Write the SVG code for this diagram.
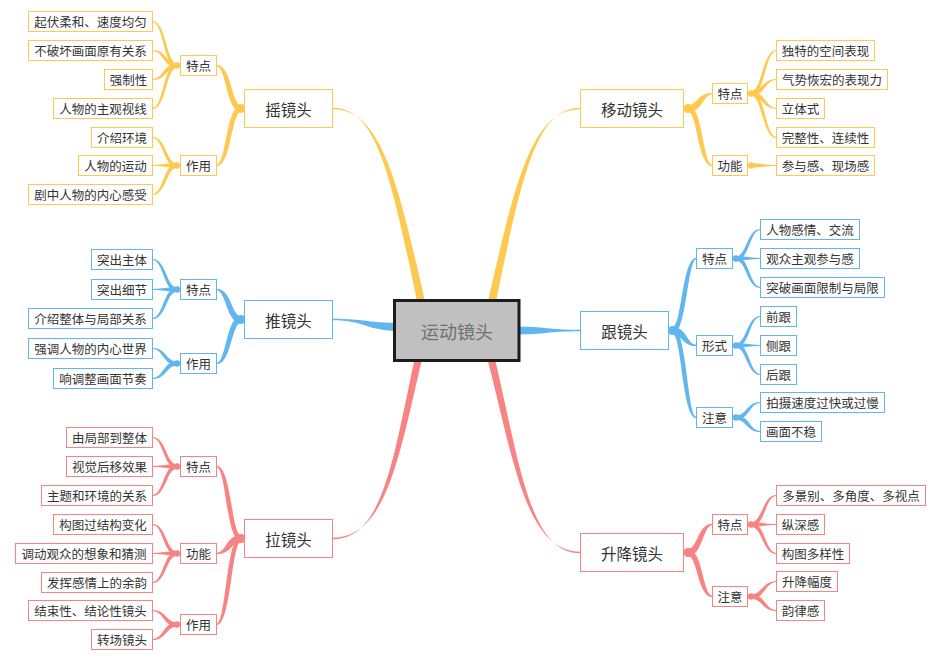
<svg xmlns="http://www.w3.org/2000/svg" width="940" height="660" viewBox="0 0 940 660">
<style>
.y{fill:#FFC94F}.b{fill:#62B6F0}.r{fill:#F88383}
rect{fill:#fff;stroke-width:1}
.ny rect{stroke:#FFC94F}.nb rect{stroke:#62B6F0}.nr rect{stroke:#F88383}
text{font-family:"Noto Sans CJK SC","Noto Sans",sans-serif;fill:#333;text-anchor:middle;dominant-baseline:central;font-size:12.5px}
.l1 text{font-size:15.5px}
</style>
<rect x="0" y="0" width="940" height="660" style="fill:#fff;stroke:none"/>
<g id="connectors">
<g class="y">
<path d="M332.5,107.7 C378.5,107.5 392,180.6 421.1,320.8 L428.9,319.2 C398,179.4 381.5,109.5 332.5,109.3 Z"/>
<path d="M580.5,107.7 C534.5,107.5 521,180.6 491.9,320.8 L484.1,319.2 C515,179.4 531.5,109.5 580.5,109.3 Z"/>
<circle cx="241" cy="108.5" r="4.5"/><circle cx="177" cy="65.5" r="3.2"/><circle cx="177" cy="165.5" r="3.2"/>
<path d="M241,105 C231.4,105 231.4,64.8 216.5,64.8 L216.5,66.2 C226.2,66.2 226.2,112 241,112 Z"/>
<path d="M241,105 C226.2,105 226.2,164.8 216.5,164.8 L216.5,166.2 C231.4,166.2 231.4,112 241,112 Z"/>
<path d="M177,63.3 C166.2,63.3 166.2,20.9 152.5,20.9 L152.5,22.1 C163.4,22.1 163.4,67.7 177,67.7 Z"/>
<path d="M177,63.3 C166.2,63.3 166.2,49.9 152.5,49.9 L152.5,51.1 C163.4,51.1 163.4,67.7 177,67.7 Z"/>
<path d="M177,63.3 C163.4,63.3 163.4,78.9 152.5,78.9 L152.5,80.1 C166.2,80.1 166.2,67.7 177,67.7 Z"/>
<path d="M177,63.3 C163.4,63.3 163.4,107.9 152.5,107.9 L152.5,109.1 C166.2,109.1 166.2,67.7 177,67.7 Z"/>
<path d="M177,163.3 C166.2,163.3 166.2,136.9 152.5,136.9 L152.5,138.1 C163.4,138.1 163.4,167.7 177,167.7 Z"/>
<path d="M177,163.3 C164.8,163.3 164.8,164.9 152.5,164.9 L152.5,166.1 C164.8,166.1 164.8,167.7 177,167.7 Z"/>
<path d="M177,163.3 C163.4,163.3 163.4,193.9 152.5,193.9 L152.5,195.1 C166.2,195.1 166.2,167.7 177,167.7 Z"/>
<circle cx="688" cy="108.5" r="4.5"/><circle cx="751" cy="93.5" r="3.2"/><circle cx="751" cy="165.5" r="3.2"/>
<path d="M688,105 C697.6,105 697.6,92.8 712.5,92.8 L712.5,94.2 C702.8,94.2 702.8,112 688,112 Z"/>
<path d="M688,105 C702.8,105 702.8,164.8 712.5,164.8 L712.5,166.2 C697.6,166.2 697.6,112 688,112 Z"/>
<path d="M751,91.3 C762.4,91.3 762.4,49.9 776.5,49.9 L776.5,51.1 C765.2,51.1 765.2,95.7 751,95.7 Z"/>
<path d="M751,91.3 C762.4,91.3 762.4,78.9 776.5,78.9 L776.5,80.1 C765.2,80.1 765.2,95.7 751,95.7 Z"/>
<path d="M751,91.3 C765.2,91.3 765.2,107.9 776.5,107.9 L776.5,109.1 C762.4,109.1 762.4,95.7 751,95.7 Z"/>
<path d="M751,91.3 C765.2,91.3 765.2,136.9 776.5,136.9 L776.5,138.1 C762.4,138.1 762.4,95.7 751,95.7 Z"/>
<path d="M751,163.3 C763.8,163.3 763.8,164.9 776.5,164.9 L776.5,166.1 C763.8,166.1 763.8,167.7 751,167.7 Z"/>
</g>
<g class="b">
<path d="M400,323 C366,323 366,318.8 332.5,318.8 L332.5,320.2 C366,320.2 366,331 400,331 Z"/>
<path d="M514,326.4 C547,326.4 547,329.8 580.5,329.8 L580.5,331.2 C547,331.2 547,334.4 514,334.4 Z"/>
<circle cx="241" cy="319.5" r="4.5"/><circle cx="177" cy="289.5" r="3.2"/><circle cx="177" cy="363.5" r="3.2"/>
<path d="M241,316 C231.4,316 231.4,288.8 216.5,288.8 L216.5,290.2 C226.2,290.2 226.2,323 241,323 Z"/>
<path d="M241,316 C226.2,316 226.2,362.8 216.5,362.8 L216.5,364.2 C231.4,364.2 231.4,323 241,323 Z"/>
<path d="M177,287.3 C166.2,287.3 166.2,258.9 152.5,258.9 L152.5,260.1 C163.4,260.1 163.4,291.7 177,291.7 Z"/>
<path d="M177,287.3 C164.8,287.3 164.8,288.9 152.5,288.9 L152.5,290.1 C164.8,290.1 164.8,291.7 177,291.7 Z"/>
<path d="M177,287.3 C163.4,287.3 163.4,317.9 152.5,317.9 L152.5,319.1 C166.2,319.1 166.2,291.7 177,291.7 Z"/>
<path d="M177,361.3 C166.2,361.3 166.2,347.9 152.5,347.9 L152.5,349.1 C163.4,349.1 163.4,365.7 177,365.7 Z"/>
<path d="M177,361.3 C163.4,361.3 163.4,377.9 152.5,377.9 L152.5,379.1 C166.2,379.1 166.2,365.7 177,365.7 Z"/>
<circle cx="672.5" cy="330.5" r="4.5"/><circle cx="736" cy="258.5" r="3.2"/><circle cx="736" cy="345.5" r="3.2"/><circle cx="736" cy="417.5" r="3.2"/>
<path d="M672.5,327 C681.9,327 681.9,257.8 696.5,257.8 L696.5,259.2 C687.1,259.2 687.1,334 672.5,334 Z"/>
<path d="M672.5,327 C687.1,327 687.1,344.8 696.5,344.8 L696.5,346.2 C681.9,346.2 681.9,334 672.5,334 Z"/>
<path d="M672.5,327 C687.1,327 687.1,416.8 696.5,416.8 L696.5,418.2 C681.9,418.2 681.9,334 672.5,334 Z"/>
<path d="M736,256.3 C746.8,256.3 746.8,228.9 760.5,228.9 L760.5,230.1 C749.6,230.1 749.6,260.7 736,260.7 Z"/>
<path d="M736,256.3 C748.2,256.3 748.2,257.9 760.5,257.9 L760.5,259.1 C748.2,259.1 748.2,260.7 736,260.7 Z"/>
<path d="M736,256.3 C749.6,256.3 749.6,286.9 760.5,286.9 L760.5,288.1 C746.8,288.1 746.8,260.7 736,260.7 Z"/>
<path d="M736,343.3 C746.8,343.3 746.8,315.9 760.5,315.9 L760.5,317.1 C749.6,317.1 749.6,347.7 736,347.7 Z"/>
<path d="M736,343.3 C748.2,343.3 748.2,344.9 760.5,344.9 L760.5,346.1 C748.2,346.1 748.2,347.7 736,347.7 Z"/>
<path d="M736,343.3 C749.6,343.3 749.6,373.9 760.5,373.9 L760.5,375.1 C746.8,375.1 746.8,347.7 736,347.7 Z"/>
<path d="M736,415.3 C746.8,415.3 746.8,401.9 760.5,401.9 L760.5,403.1 C749.6,403.1 749.6,419.7 736,419.7 Z"/>
<path d="M736,415.3 C749.6,415.3 749.6,430.9 760.5,430.9 L760.5,432.1 C746.8,432.1 746.8,419.7 736,419.7 Z"/>
</g>
<g class="r">
<path d="M332.5,539.3 C388.5,539.5 395,439.4 421.3,330.1 L428.7,331.9 C401,440.6 391.5,537.5 332.5,537.7 Z"/>
<path d="M580.5,553.3 C524.5,553.5 518,444.2 487.7,330 L480.3,332 C512,445.8 521.5,551.5 580.5,551.7 Z"/>
<circle cx="241" cy="538.5" r="4.5"/><circle cx="177" cy="466.5" r="3.2"/><circle cx="177" cy="553.5" r="3.2"/><circle cx="177" cy="624.5" r="3.2"/>
<path d="M241,535 C231.4,535 231.4,465.8 216.5,465.8 L216.5,467.2 C226.2,467.2 226.2,542 241,542 Z"/>
<path d="M241,535 C226.2,535 226.2,552.8 216.5,552.8 L216.5,554.2 C231.4,554.2 231.4,542 241,542 Z"/>
<path d="M241,535 C226.2,535 226.2,623.8 216.5,623.8 L216.5,625.2 C231.4,625.2 231.4,542 241,542 Z"/>
<path d="M177,464.3 C166.2,464.3 166.2,436.9 152.5,436.9 L152.5,438.1 C163.4,438.1 163.4,468.7 177,468.7 Z"/>
<path d="M177,464.3 C164.8,464.3 164.8,465.9 152.5,465.9 L152.5,467.1 C164.8,467.1 164.8,468.7 177,468.7 Z"/>
<path d="M177,464.3 C163.4,464.3 163.4,494.9 152.5,494.9 L152.5,496.1 C166.2,496.1 166.2,468.7 177,468.7 Z"/>
<path d="M177,551.3 C166.2,551.3 166.2,523.9 152.5,523.9 L152.5,525.1 C163.4,525.1 163.4,555.7 177,555.7 Z"/>
<path d="M177,551.3 C164.8,551.3 164.8,552.9 152.5,552.9 L152.5,554.1 C164.8,554.1 164.8,555.7 177,555.7 Z"/>
<path d="M177,551.3 C163.4,551.3 163.4,581.9 152.5,581.9 L152.5,583.1 C166.2,583.1 166.2,555.7 177,555.7 Z"/>
<path d="M177,622.3 C166.2,622.3 166.2,609.9 152.5,609.9 L152.5,611.1 C163.4,611.1 163.4,626.7 177,626.7 Z"/>
<path d="M177,622.3 C163.4,622.3 163.4,638.9 152.5,638.9 L152.5,640.1 C166.2,640.1 166.2,626.7 177,626.7 Z"/>
<circle cx="688" cy="552.5" r="4.5"/><circle cx="751" cy="524.5" r="3.2"/><circle cx="751" cy="596.5" r="3.2"/>
<path d="M688,549 C697.6,549 697.6,523.8 712.5,523.8 L712.5,525.2 C702.8,525.2 702.8,556 688,556 Z"/>
<path d="M688,549 C702.8,549 702.8,595.8 712.5,595.8 L712.5,597.2 C697.6,597.2 697.6,556 688,556 Z"/>
<path d="M751,522.3 C762.4,522.3 762.4,494.9 776.5,494.9 L776.5,496.1 C765.2,496.1 765.2,526.7 751,526.7 Z"/>
<path d="M751,522.3 C763.8,522.3 763.8,523.9 776.5,523.9 L776.5,525.1 C763.8,525.1 763.8,526.7 751,526.7 Z"/>
<path d="M751,522.3 C765.2,522.3 765.2,552.9 776.5,552.9 L776.5,554.1 C762.4,554.1 762.4,526.7 751,526.7 Z"/>
<path d="M751,594.3 C762.4,594.3 762.4,580.9 776.5,580.9 L776.5,582.1 C765.2,582.1 765.2,598.7 751,598.7 Z"/>
<path d="M751,594.3 C765.2,594.3 765.2,609.9 776.5,609.9 L776.5,611.1 C762.4,611.1 762.4,598.7 751,598.7 Z"/>
</g>
</g>
<g id="center"><rect x="394.5" y="300.5" width="124.5" height="60" style="fill:#C0C0C0;stroke:#1C1C1C;stroke-width:3"/><text x="457" y="331" style="font-size:18px;fill:#707070">运动镜头</text></g>

<g class="ny">
<g id="yao" class="l1"><rect x="244.5" y="89.5" width="88" height="38"/><text x="288.5" y="108.5">摇镜头</text></g>
<g id="yao-tedian"><rect x="180.5" y="55.5" width="36" height="20"/><text x="198.5" y="65.5">特点</text></g>
<g id="yao-zuoyong"><rect x="180.5" y="155.5" width="36" height="20"/><text x="198.5" y="165.5">作用</text></g>
<g id="yao-1"><rect x="28.5" y="11.5" width="124" height="20"/><text x="90.5" y="21.5">起伏柔和、速度均匀</text></g>
<g id="yao-2"><rect x="28.5" y="40.5" width="124" height="20"/><text x="90.5" y="50.5">不破坏画面原有关系</text></g>
<g id="yao-3"><rect x="104.5" y="69.5" width="48" height="20"/><text x="128.5" y="79.5">强制性</text></g>
<g id="yao-4"><rect x="53.5" y="98.5" width="99" height="20"/><text x="103" y="108.5">人物的主观视线</text></g>
<g id="yao-5"><rect x="91.5" y="127.5" width="61" height="20"/><text x="122" y="137.5">介绍环境</text></g>
<g id="yao-6"><rect x="78.5" y="155.5" width="74" height="20"/><text x="115.5" y="165.5">人物的运动</text></g>
<g id="yao-7"><rect x="28.5" y="184.5" width="124" height="20"/><text x="90.5" y="194.5">剧中人物的内心感受</text></g>

<g id="yidong" class="l1"><rect x="580.5" y="89.5" width="103" height="38"/><text x="632" y="108.5">移动镜头</text></g>
<g id="yidong-tedian"><rect x="712.5" y="83.5" width="35" height="20"/><text x="730" y="93.5">特点</text></g>
<g id="yidong-gongneng"><rect x="712.5" y="155.5" width="35" height="20"/><text x="730" y="165.5">功能</text></g>
<g id="yidong-1"><rect x="776.5" y="40.5" width="98" height="20"/><text x="825.5" y="50.5">独特的空间表现</text></g>
<g id="yidong-2"><rect x="776.5" y="69.5" width="111" height="20"/><text x="832" y="79.5">气势恢宏的表现力</text></g>
<g id="yidong-3"><rect x="776.5" y="98.5" width="48" height="20"/><text x="800.5" y="108.5">立体式</text></g>
<g id="yidong-4"><rect x="776.5" y="127.5" width="98" height="20"/><text x="825.5" y="137.5">完整性、连续性</text></g>
<g id="yidong-5"><rect x="776.5" y="155.5" width="98" height="20"/><text x="825.5" y="165.5">参与感、现场感</text></g>
</g>

<g class="nb">
<g id="tui" class="l1"><rect x="244.5" y="300.5" width="88" height="38"/><text x="288.5" y="319.5">推镜头</text></g>
<g id="tui-tedian"><rect x="180.5" y="279.5" width="36" height="20"/><text x="198.5" y="289.5">特点</text></g>
<g id="tui-zuoyong"><rect x="180.5" y="353.5" width="36" height="20"/><text x="198.5" y="363.5">作用</text></g>
<g id="tui-1"><rect x="91.5" y="249.5" width="61" height="20"/><text x="122" y="259.5">突出主体</text></g>
<g id="tui-2"><rect x="91.5" y="279.5" width="61" height="20"/><text x="122" y="289.5">突出细节</text></g>
<g id="tui-3"><rect x="28.5" y="308.5" width="124" height="20"/><text x="90.5" y="318.5">介绍整体与局部关系</text></g>
<g id="tui-4"><rect x="28.5" y="338.5" width="124" height="20"/><text x="90.5" y="348.5">强调人物的内心世界</text></g>
<g id="tui-5"><rect x="53.5" y="368.5" width="99" height="20"/><text x="103" y="378.5">响调整画面节奏</text></g>

<g id="gen" class="l1"><rect x="580.5" y="311.5" width="88" height="38"/><text x="624.5" y="330.5">跟镜头</text></g>
<g id="gen-tedian"><rect x="696.5" y="248.5" width="36" height="20"/><text x="714.5" y="258.5">特点</text></g>
<g id="gen-xingshi"><rect x="696.5" y="335.5" width="36" height="20"/><text x="714.5" y="345.5">形式</text></g>
<g id="gen-zhuyi"><rect x="696.5" y="407.5" width="36" height="20"/><text x="714.5" y="417.5">注意</text></g>
<g id="gen-1"><rect x="760.5" y="219.5" width="99" height="20"/><text x="810" y="229.5">人物感情、交流</text></g>
<g id="gen-2"><rect x="760.5" y="248.5" width="99" height="20"/><text x="810" y="258.5">观众主观参与感</text></g>
<g id="gen-3"><rect x="760.5" y="277.5" width="124" height="20"/><text x="822.5" y="287.5">突破画面限制与局限</text></g>
<g id="gen-4"><rect x="760.5" y="306.5" width="36" height="20"/><text x="778.5" y="316.5">前跟</text></g>
<g id="gen-5"><rect x="760.5" y="335.5" width="36" height="20"/><text x="778.5" y="345.5">侧跟</text></g>
<g id="gen-6"><rect x="760.5" y="364.5" width="36" height="20"/><text x="778.5" y="374.5">后跟</text></g>
<g id="gen-7"><rect x="760.5" y="392.5" width="124" height="20"/><text x="822.5" y="402.5">拍摄速度过快或过慢</text></g>
<g id="gen-8"><rect x="760.5" y="421.5" width="61" height="20"/><text x="791" y="431.5">画面不稳</text></g>
</g>

<g class="nr">
<g id="la" class="l1"><rect x="244.5" y="519.5" width="88" height="38"/><text x="288.5" y="538.5">拉镜头</text></g>
<g id="la-tedian"><rect x="180.5" y="456.5" width="36" height="20"/><text x="198.5" y="466.5">特点</text></g>
<g id="la-gongneng"><rect x="180.5" y="543.5" width="36" height="20"/><text x="198.5" y="553.5">功能</text></g>
<g id="la-zuoyong"><rect x="180.5" y="614.5" width="36" height="20"/><text x="198.5" y="624.5">作用</text></g>
<g id="la-1"><rect x="66.5" y="427.5" width="86" height="20"/><text x="109.5" y="437.5">由局部到整体</text></g>
<g id="la-2"><rect x="66.5" y="456.5" width="86" height="20"/><text x="109.5" y="466.5">视觉后移效果</text></g>
<g id="la-3"><rect x="41.5" y="485.5" width="111" height="20"/><text x="97" y="495.5">主题和环境的关系</text></g>
<g id="la-4"><rect x="53.5" y="514.5" width="99" height="20"/><text x="103" y="524.5">构图过结构变化</text></g>
<g id="la-5"><rect x="15.5" y="543.5" width="137" height="20"/><text x="84" y="553.5">调动观众的想象和猜测</text></g>
<g id="la-6"><rect x="41.5" y="572.5" width="111" height="20"/><text x="97" y="582.5">发挥感情上的余韵</text></g>
<g id="la-7"><rect x="28.5" y="600.5" width="124" height="20"/><text x="90.5" y="610.5">结束性、结论性镜头</text></g>
<g id="la-8"><rect x="91.5" y="629.5" width="61" height="20"/><text x="122" y="639.5">转场镜头</text></g>

<g id="shengjiang" class="l1"><rect x="580.5" y="533.5" width="103" height="38"/><text x="632" y="552.5">升降镜头</text></g>
<g id="sj-tedian"><rect x="712.5" y="514.5" width="35" height="20"/><text x="730" y="524.5">特点</text></g>
<g id="sj-zhuyi"><rect x="712.5" y="586.5" width="35" height="20"/><text x="730" y="596.5">注意</text></g>
<g id="sj-1"><rect x="776.5" y="485.5" width="149" height="20"/><text x="851" y="495.5">多景别、多角度、多视点</text></g>
<g id="sj-2"><rect x="776.5" y="514.5" width="48" height="20"/><text x="800.5" y="524.5">纵深感</text></g>
<g id="sj-3"><rect x="776.5" y="543.5" width="73" height="20"/><text x="813" y="553.5">构图多样性</text></g>
<g id="sj-4"><rect x="776.5" y="571.5" width="61" height="20"/><text x="807" y="581.5">升降幅度</text></g>
<g id="sj-5"><rect x="776.5" y="600.5" width="48" height="20"/><text x="800.5" y="610.5">韵律感</text></g>
</g>
</svg>
